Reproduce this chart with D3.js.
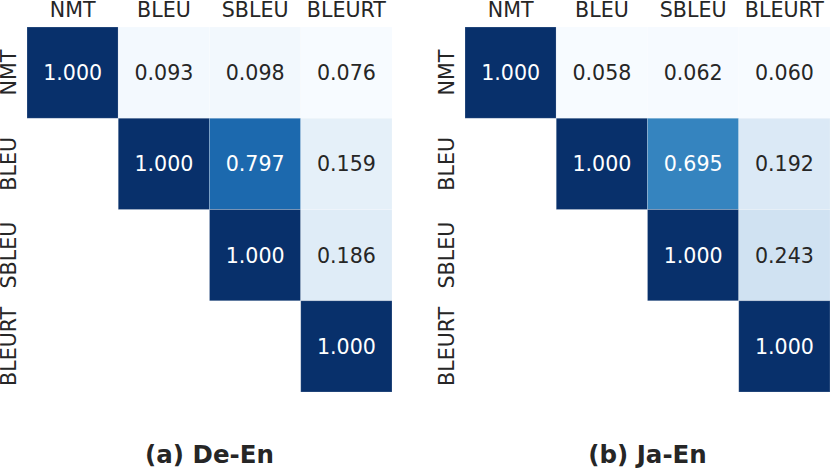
<!DOCTYPE html>
<html>
<head>
<meta charset="utf-8">
<script src="https://cdn.jsdelivr.net/npm/d3@7"></script>
<style>
  body { margin: 0; background: #fff; }
  svg { display: block; font-family: "DejaVu Sans", sans-serif; }
</style>
</head>
<body>
<svg id="chart" width="830" height="470"></svg>
<script>
// metrics on both axes
const metrics = ["NMT", "BLEU", "SBLEU", "BLEURT"];

// upper triangle of the correlation matrices, null = masked
const deEn = [
    [1.000, 0.093, 0.098, 0.076],
    [null, 1.000, 0.797, 0.159],
    [null, null, 1.000, 0.186],
    [null, null, null, 1.000]
];
const jaEn = [
    [1.000, 0.058, 0.062, 0.060],
    [null, 1.000, 0.695, 0.192],
    [null, null, 1.000, 0.243],
    [null, null, null, 1.000]
];

const panels = [
    { title: "(a) De-En", data: deEn, left: 27 },
    { title: "(b) Ja-En", data: jaEn, left: 465 }
];

const svg = d3.select("#chart");
const top0 = 27;
const size = 365;

// seaborn-style annotation colour, relative luminance on linear rgb
function textColor(fill) {
    const c = d3.rgb(fill);
    const lin = v => {
        v = v / 255;
        return v <= 0.03928 ? v / 12.92 : Math.pow((v + 0.055) / 1.055, 2.4);
    };
    const lum = 0.2126 * lin(c.r) + 0.7152 * lin(c.g) + 0.0722 * lin(c.b);
    return lum > 0.408 ? "#262626" : "#ffffff";
}

panels.forEach(p => {
    const g = svg.append("g").attr("transform", `translate(${p.left},${top0})`);

    const x = d3.scaleBand().domain(metrics).range([0, size]);
    const y = d3.scaleBand().domain(metrics).range([0, size]);

    const cells = [];
    p.data.forEach((row, i) => row.forEach((v, j) => {
        if (v !== null) cells.push({ r: metrics[i], c: metrics[j], v: v });
    }));

    const vals = cells.map(d => d.v);
    const color = d3.scaleSequential(d3.interpolateBlues)
        .domain([d3.min(vals), d3.max(vals)]);

    g.selectAll("rect.cell")
        .data(cells)
        .enter()
        .append("rect")
        .attr("class", "cell")
        .attr("x", d => x(d.c))
        .attr("y", d => y(d.r))
        .attr("width", x.bandwidth())
        .attr("height", y.bandwidth())
        .attr("fill", d => color(d.v))
        .attr("stroke", "rgba(255,255,255,0.25)")
        .attr("stroke-width", 0.8);

    g.selectAll("text.annot")
        .data(cells)
        .enter()
        .append("text")
        .attr("class", "annot")
        .attr("x", d => x(d.c) + x.bandwidth() / 2)
        .attr("y", d => y(d.r) + y.bandwidth() / 2)
        .attr("dy", "0.36em")
        .attr("text-anchor", "middle")
        .attr("font-size", 20.6)
        .attr("fill", d => textColor(color(d.v)))
        .text(d => d3.format(".3f")(d.v));

    // column labels on top
    g.selectAll("text.col")
        .data(metrics)
        .enter()
        .append("text")
        .attr("class", "col")
        .attr("x", d => x(d) + x.bandwidth() / 2)
        .attr("y", -10)
        .attr("text-anchor", "middle")
        .attr("font-size", 20.6)
        .attr("fill", "#262626")
        .text(d => d);

    // row labels, rotated
    g.selectAll("text.row")
        .data(metrics)
        .enter()
        .append("text")
        .attr("class", "row")
        .attr("transform", d => `translate(-11,${y(d) + y.bandwidth() / 2}) rotate(-90)`)
        .attr("text-anchor", "middle")
        .attr("font-size", 20.6)
        .attr("fill", "#262626")
        .text(d => d);

    svg.append("text")
        .attr("x", p.left + size / 2)
        .attr("y", 463)
        .attr("text-anchor", "middle")
        .attr("font-size", 24.5)
        .attr("font-weight", "bold")
        .attr("fill", "#262626")
        .text(p.title);
});
</script>
</body>
</html>
